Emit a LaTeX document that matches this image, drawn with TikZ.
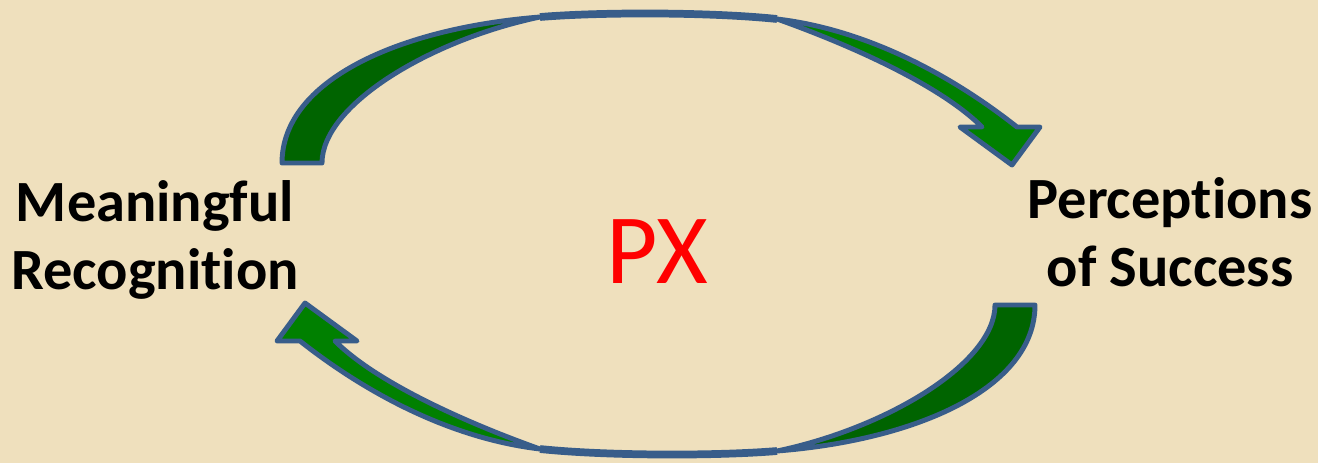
\documentclass[tikz,border=0pt]{standalone}
\usepackage{fontspec}
\setmainfont[Ligatures={NoCommon,NoRequired,NoContextual,NoRare}]{Carlito}
\usepackage{tikz}

\definecolor{parchment}{RGB}{239,224,189}
\definecolor{arrowblue}{RGB}{56,93,138}
\definecolor{taildark}{RGB}{0,100,0}
\definecolor{headgreen}{RGB}{0,128,0}

% one curved block arrow (drawn for the top, turned for the bottom)
\newcommand{\cyclearrow}{%
  % tail part
  \filldraw[outline, fill=taildark] (282,163) .. controls (282,80) and (400,28) .. (540,17)
    .. controls (430,40) and (322,105) .. (322,163) -- cycle;
  % thin part over the top
  \draw[outline, line width=2.2pt] (540,17) .. controls (600,12) and (710,12) .. (777,19);
  % head part
  \filldraw[outline, fill=headgreen] (777,19) .. controls (870,30) and (955,78) .. (1017,127)
    -- (1040,127) -- (1012,165) -- (960,127) -- (982,127)
    .. controls (940,85) and (850,45) .. (777,19) -- cycle;
}

\begin{document}
\begin{tikzpicture}[x=0.01cm, y=-0.01cm,
    outline/.style={draw=arrowblue, line width=1.4pt, line join=round},
    every node/.style={font=\fontsize{16.6}{19.4}\selectfont\bfseries, align=center, inner sep=0pt}]
    % page with parchment colour
    \useasboundingbox (0,0) rectangle (1318,463);
    \fill[parchment] (0,0) rectangle (1318,463);

    % upper arrow, left to right
    \cyclearrow
    % lower arrow, right to left
    \begin{scope}[rotate around={180:(658.5,234)}]
      \cyclearrow
    \end{scope}

    % the two sides (kern keeps t and i apart)
    \node (recog) at (155,240) {Meaningful\\Recognit\kern0pt ion};
    \node (success) at (1170,232) {Percept\kern0pt ions\\of Success};

    % centre
    \node[font=\fontsize{28.3}{34}\selectfont, text=red] (px) at (657,251.5) {PX};
\end{tikzpicture}
\end{document}
